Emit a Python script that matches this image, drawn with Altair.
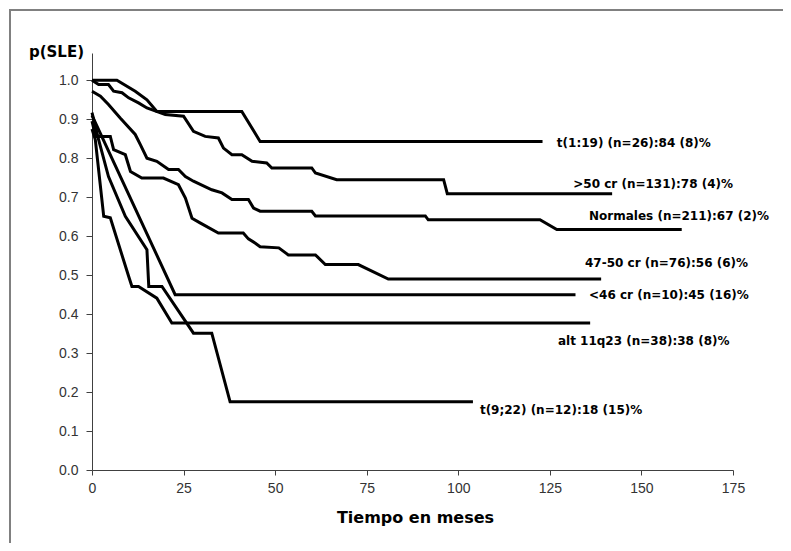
import altair as alt
import pandas as pd

# ---- data (months, survival probability) ----
series_names = ["t(1:19)", ">50 cr", "Normales", "47-50 cr", "<46 cr", "alt 11q23", "t(9;22)"]

t119_t = [0, 6.8, 11.8, 15, 17.7, 40.9, 45.9, 123]
t119_s = [1.0, 1.0, 0.972, 0.950, 0.920, 0.920, 0.843, 0.843]

gt50_t = [0, 1.8, 4.5, 5.9, 8.2, 10, 12.7, 15, 20, 25, 27.7, 30.9, 34.5, 35.9, 38.2, 40.9,
          43.7, 47.7, 49.1, 60, 61, 66.8, 96, 97, 142]
gt50_s = [1.0, 0.989, 0.989, 0.972, 0.968, 0.955, 0.942, 0.929, 0.912, 0.908, 0.869, 0.856,
          0.852, 0.826, 0.809, 0.809, 0.792, 0.788, 0.775, 0.775, 0.762, 0.745, 0.745, 0.709, 0.709]

norm_t = [0, 2.3, 4.5, 7.7, 11.8, 13.2, 15, 17.7, 20.9, 23.6, 25.5, 27.7, 32.7, 35.5, 38.2,
          42.7, 44.1, 45.9, 60, 61, 91, 91.8, 122.3, 126.9, 161]
norm_s = [0.972, 0.959, 0.938, 0.903, 0.861, 0.835, 0.800, 0.792, 0.771, 0.771, 0.753, 0.741,
          0.719, 0.711, 0.694, 0.694, 0.672, 0.664, 0.664, 0.652, 0.652, 0.642, 0.642, 0.617, 0.617]

c4750_t = [0, 1, 5, 5.9, 9.1, 10.5, 13.6, 19.5, 23.6, 25.5, 27.3, 29.5, 34.5, 41.3, 42.7, 44.6,
           45.9, 51.0, 53.6, 61, 63.7, 72.7, 80.9, 139]
c4750_s = [0.895, 0.856, 0.856, 0.822, 0.809, 0.766, 0.749, 0.749, 0.732, 0.698, 0.646, 0.634,
           0.608, 0.608, 0.593, 0.582, 0.573, 0.570, 0.552, 0.552, 0.527, 0.527, 0.490, 0.490]

lt46_t = [0, 22.7, 132]
lt46_s = [0.910, 0.450, 0.450]

alt11_t = [0, 0.9, 3.2, 5, 10, 10.9, 12.7, 17.7, 21.8, 136]
alt11_s = [0.875, 0.848, 0.651, 0.647, 0.497, 0.471, 0.471, 0.441, 0.377, 0.377]

t922_t = [0, 1.8, 4.5, 9.1, 15, 15.5, 19.1, 27.7, 32.7, 37.7, 104]
t922_s = [0.917, 0.848, 0.753, 0.651, 0.565, 0.471, 0.471, 0.351, 0.351, 0.175, 0.175]

label_text = ["t(1:19) (n=26):84 (8)%", ">50 cr (n=131):78 (4)%", "Normales (n=211):67 (2)%",
              "47-50 cr (n=76):56 (6)%", "<46 cr (n=10):45 (16)%", "alt 11q23 (n=38):38 (8)%",
              "t(9;22) (n=12):18 (15)%"]
label_t = [126.9, 131.4, 135.7, 134.6, 135.7, 127.2, 105.9]
label_s = [0.840, 0.734, 0.651, 0.531, 0.450, 0.330, 0.154]

x_ticks = [0, 25, 50, 75, 100, 125, 150, 175]
y_ticks = [0.0, 0.1, 0.2, 0.3, 0.4, 0.5, 0.6, 0.7, 0.8, 0.9, 1.0]

# ---- build tables ----
all_t = [t119_t, gt50_t, norm_t, c4750_t, lt46_t, alt11_t, t922_t]
all_s = [t119_s, gt50_s, norm_s, c4750_s, lt46_s, alt11_s, t922_s]
rows = []
for name, ts, ss in zip(series_names, all_t, all_s):
    for i, (t, s) in enumerate(zip(ts, ss)):
        rows.append({"serie": name, "t": t, "s": s, "i": i})
df = pd.DataFrame(rows)
lab_df = pd.DataFrame({"t": label_t, "s": label_s, "txt": label_text})

AX_COLOR = "#404040"
x_enc = alt.X("t:Q",
              scale=alt.Scale(domain=[0, 175], nice=False, zero=False),
              axis=alt.Axis(values=x_ticks, title="Tiempo en meses", grid=False,
                            domainColor=AX_COLOR, tickColor=AX_COLOR, tickSize=5,
                            labelPadding=6, labelFont="Liberation Sans", labelFontSize=14,
                            labelColor="#333333", labelFlush=False,
                            titleFont="DejaVu Sans", titleFontWeight="bold", titleFontSize=16,
                            titleColor="black", titleX=323, titleY=52,
                            titleAlign="center", titleBaseline="alphabetic"))
y_enc = alt.Y("s:Q",
              scale=alt.Scale(domain=[0, 1.07], nice=False, zero=True),
              axis=alt.Axis(values=y_ticks, format=".1f", title="p(SLE)", grid=False,
                            domainColor=AX_COLOR, tickColor=AX_COLOR, tickSize=6,
                            labelPadding=8, labelFont="Liberation Sans", labelFontSize=14,
                            labelColor="#333333", labelFlush=False,
                            titleFont="DejaVu Sans", titleFontWeight="bold", titleFontSize=15,
                            titleColor="black", titleAngle=0, titleX=-36, titleY=3,
                            titleAlign="center", titleBaseline="alphabetic"))

one = pd.DataFrame({"k": [0]})
frame_top = alt.Chart(one).mark_rule(color="#808080", strokeWidth=2).encode(
    x=alt.value(-83), x2=alt.value(691), y=alt.value(-43))
frame_left = alt.Chart(one).mark_rule(color="#808080", strokeWidth=2).encode(
    x=alt.value(-82), y=alt.value(-44), y2=alt.value(490))

lines = alt.Chart(df).mark_line(color="black", strokeWidth=3, clip=False).encode(
    x=x_enc, y=y_enc, detail="serie:N", order="i:Q"
)

labels = alt.Chart(lab_df).mark_text(
    align="left", baseline="middle", font="DejaVu Sans", fontWeight="bold",
    fontSize=12, color="black"
).encode(x="t:Q", y="s:Q", text="txt:N")

chart = alt.layer(frame_top, frame_left, lines, labels).properties(
    width=641, height=417,
    autosize=alt.AutoSizeParams(type="none"),
    padding={"left": 84, "top": 45, "right": 50, "bottom": 73},
).configure_view(stroke=None)

chart.save("out.html", embed_options={"renderer": "svg", "actions": False})
